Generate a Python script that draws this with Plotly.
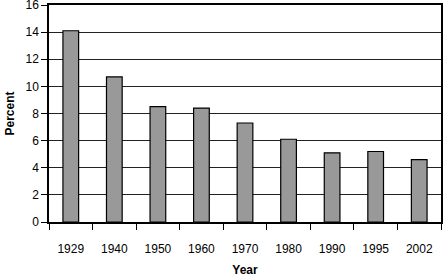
import plotly.graph_objects as go

years = ["1929", "1940", "1950", "1960", "1970", "1980", "1990", "1995", "2002"]
percent = [14.1, 10.7, 8.5, 8.4, 7.3, 6.1, 5.1, 5.2, 4.6]
y_max = 16
y_step = 2

fig = go.Figure(go.Bar(
    x=years, y=percent,
    marker=dict(color="#999999", line=dict(color="#000000", width=1.2)),
    width=0.36,
))

fig.update_layout(
    width=443, height=277,
    margin=dict(l=49, r=2, t=5, b=55),
    paper_bgcolor="white", plot_bgcolor="white",
    font=dict(family="Liberation Sans, Arial, sans-serif", size=12, color="black"),
    showlegend=False,
)
fig.update_xaxes(
    type="category", automargin=False,
    showline=True, linecolor="black", linewidth=1.5, mirror=True,
    ticks="outside", tickson="boundaries", ticklen=6, tickcolor="black",
    ticklabelstandoff=15,
    showgrid=False,
    title=dict(text="<b>Year</b>", standoff=18, font=dict(size=12)),
)
fig.update_yaxes(
    range=[0, y_max], tickmode="linear", tick0=0, dtick=y_step, automargin=False,
    ticklabeloverflow="allow",
    showline=True, linecolor="black", linewidth=1.5, mirror=True,
    ticks="outside", ticklen=6, tickcolor="black",
    showgrid=True, gridcolor="#222222", gridwidth=1,
    zeroline=False,
    title=dict(text="<b>Percent</b>", standoff=8, font=dict(size=12)),
)

fig.write_html("out.html")
